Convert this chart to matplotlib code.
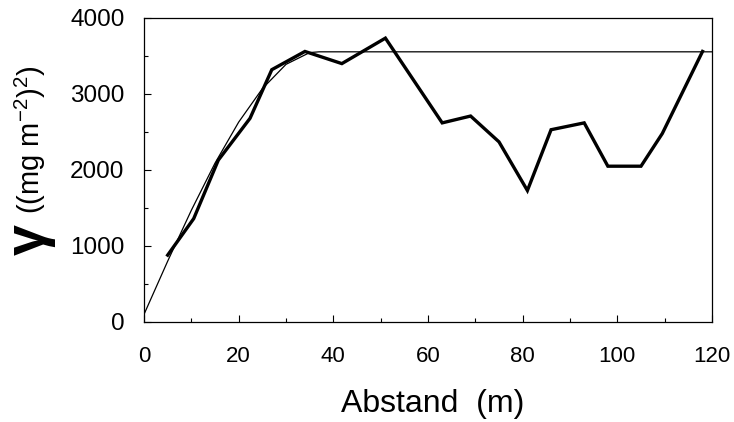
import matplotlib
matplotlib.use("Agg")
import matplotlib.pyplot as plt
from matplotlib.ticker import MultipleLocator

plt.rcParams["font.family"] = ["Liberation Sans", "DejaVu Sans"]
plt.rcParams["mathtext.fontset"] = "custom"
plt.rcParams["mathtext.rm"] = "Liberation Sans"
plt.rcParams["mathtext.it"] = "Liberation Sans"

lag = [5, 10.5, 15.7, 22.4, 27, 34, 41.8, 51, 63, 69, 75, 81, 86, 93, 98, 105, 109.5, 118]
gamma = [880, 1360, 2130, 2680, 3320, 3560, 3400, 3735, 2620, 2710, 2370, 1730,
         2530, 2620, 2050, 2050, 2480, 3560]

# fitted model (thin line)
model_lag = [0, 3, 5, 10, 15, 20, 25, 30, 35, 37, 120]
model_gamma = [100, 520, 800, 1470, 2090, 2630, 3070, 3390, 3545, 3555, 3555]

W, H = 734, 422
fig = plt.figure(figsize=(W / 100, H / 100), dpi=100)
ax = fig.add_axes([144 / W, 1 - 322 / H, (712 - 144) / W, (322 - 18) / H])

ax.plot(model_lag, model_gamma, color="black", lw=0.9, solid_joinstyle="round")
ax.plot(lag, gamma, color="black", lw=2.4, solid_joinstyle="miter")

ax.set_xlim(0, 120)
ax.set_ylim(0, 4000)
ax.xaxis.set_major_locator(MultipleLocator(20))
ax.xaxis.set_minor_locator(MultipleLocator(10))
ax.yaxis.set_major_locator(MultipleLocator(1000))
ax.yaxis.set_minor_locator(MultipleLocator(500))
ax.tick_params(which="both", direction="in", top=False, right=False)
ax.tick_params(which="major", length=5, width=0.8)
ax.tick_params(which="minor", length=3, width=0.8)
ax.tick_params(axis="x", pad=17, labelsize=16)
ax.tick_params(axis="y", pad=14, labelsize=17.5)
for s in ax.spines.values():
    s.set_linewidth(0.9)

fig.text(433 / W, 1 - 412 / H, "Abstand  (m)", fontsize=23, ha="center", va="baseline")

fig.text(30 / W, 1 - 240 / H, "γ", rotation=90, fontsize=40, fontweight="bold",
         ha="center", va="center")
fig.text(30 / W, 1 - 140 / H, r"((mg m$^{-2}$)$^{2}$)", rotation=90, fontsize=21,
         ha="center", va="center")

fig.savefig("out.png", dpi=100)
